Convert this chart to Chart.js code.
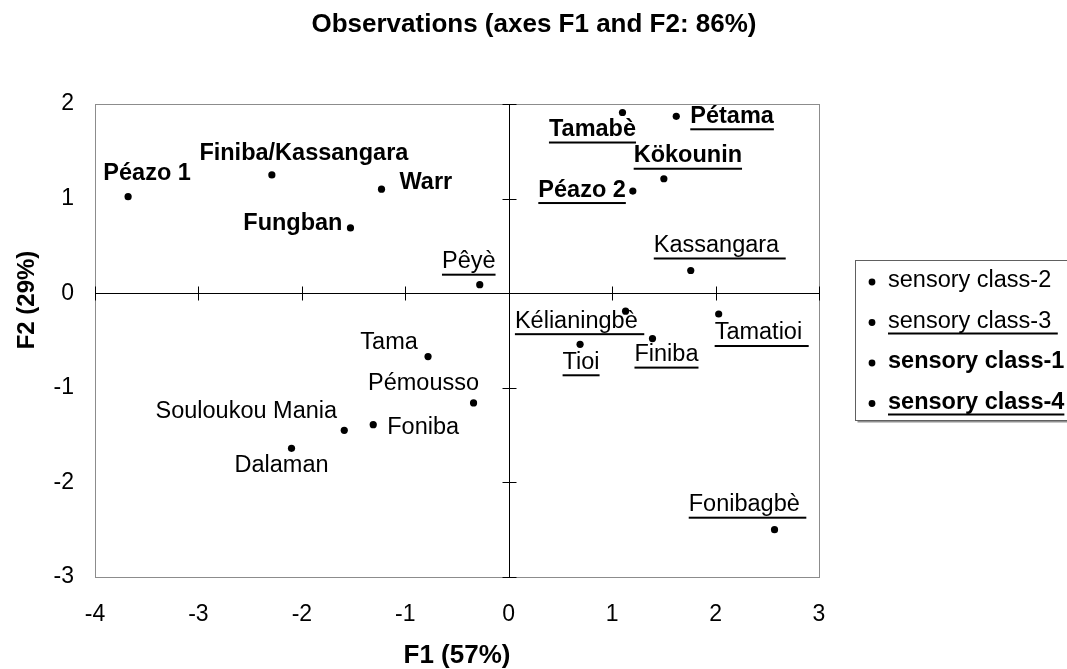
<!DOCTYPE html>
<html>
<head>
<meta charset="utf-8">
<script src="https://cdn.jsdelivr.net/npm/chart.js@4.4.0/dist/chart.umd.min.js"></script>
<style>
html,body{margin:0;padding:0;background:#fff;}
#wrap{width:1067px;height:669px;position:relative;overflow:hidden;}
</style>
</head>
<body>
<div id="wrap"><canvas id="c" width="1067" height="669"></canvas></div>
<script>
// ---- data ----
const names = ["Péazo 1","Finiba/Kassangara","Warr","Fungban","Pêyè",
  "Tamabè","Pétama","Kökounin","Péazo 2","Kassangara",
  "Kélianingbè","Tamatioi","Finiba","Tioi","Fonibagbè",
  "Tama","Pémousso","Foniba","Souloukou Mania","Dalaman"];
const f1 = [-3.68,-2.29,-1.23,-1.53,-0.28,
  1.10,1.62,1.50,1.20,1.76,
  1.13,2.03,1.39,0.69,2.57,
  -0.78,-0.34,-1.31,-1.59,-2.10];
const f2 = [1.02,1.25,1.10,0.69,0.09,
  1.91,1.87,1.21,1.08,0.24,
  -0.19,-0.22,-0.48,-0.54,-2.50,
  -0.67,-1.16,-1.39,-1.45,-1.64];
const sensoryClass = [1,1,1,1,3,
  4,4,4,4,3,
  3,3,3,3,3,
  2,2,2,2,2];
const legendOrder = [2,3,1,4];
const legendLabels = ["sensory class-2","sensory class-3","sensory class-1","sensory class-4"];
const xTicks = [-4,-3,-2,-1,0,1,2,3];
const yTicks = [-3,-2,-1,0,1,2];
const titleText = "Observations (axes F1 and F2: 86%)";
const xTitle = "F1 (57%)";
const yTitle = "F2 (29%)";

// ---- styles / placement (not data) ----
const classStyle = {1:{bold:true,ul:false},2:{bold:false,ul:false},3:{bold:false,ul:true},4:{bold:true,ul:true}};
// [dx, dy, anchor, trailingSpace]
const labelPlace = {
  "Péazo 1":[19,-23,'center'],
  "Finiba/Kassangara":[32,-21,'center'],
  "Warr":[18,-7,'left'],
  "Fungban":[-8,-4,'right'],
  "Pêyè":[-11,-23,'center'],
  "Tamabè":[-30,17,'center'],
  "Pétama":[14,0,'left'],
  "Kökounin":[24,-23,'center'],
  "Péazo 2":[-7,-1,'right'],
  "Kassangara":[29,-25,'center',true],
  "Kélianingbè":[-46,10,'center',true],
  "Tamatioi":[43,19,'center',true],
  "Finiba":[14,16,'center'],
  "Tioi":[1,18,'center'],
  "Fonibagbè":[-27,-25,'center',true],
  "Tama":[-39,-14,'center'],
  "Pémousso":[-50,-19,'center'],
  "Foniba":[14,3,'left'],
  "Souloukou Mania":[-98,-19,'center'],
  "Dalaman":[-10,17,'center']
};
const FAM = '"Liberation Sans", Arial, Helvetica, sans-serif';
function fnt(bold,size){return (bold?'bold ':'')+size+'px '+FAM;}

const datasets = legendOrder.map((cls,k)=>({
  label: legendLabels[k],
  cls: cls,
  data: names.map((n,i)=>({x:f1[i],y:f2[i],name:n,c:sensoryClass[i]})).filter(d=>d.c===cls),
  pointRadius:3.6, pointHoverRadius:3.6,
  backgroundColor:'#000', borderColor:'#000', borderWidth:0
}));

const decor = {
  id:'decor',
  beforeDatasetsDraw(chart){
    const ctx=chart.ctx, a=chart.chartArea, xs=chart.scales.x, ys=chart.scales.y;
    ctx.save();
    ctx.strokeStyle='#8c8c8c'; ctx.lineWidth=1;
    ctx.strokeRect(Math.round(a.left)+0.5, Math.round(a.top)+0.5, Math.round(a.right-a.left), Math.round(a.bottom-a.top));
    const x0=Math.round(xs.getPixelForValue(0))+0.5, y0=Math.round(ys.getPixelForValue(0))+0.5;
    ctx.strokeStyle='#000';
    ctx.beginPath();
    ctx.moveTo(a.left,y0); ctx.lineTo(a.right,y0);
    ctx.moveTo(x0,a.top); ctx.lineTo(x0,a.bottom);
    xTicks.forEach(v=>{const px=Math.round(xs.getPixelForValue(v))+0.5; ctx.moveTo(px,y0-7); ctx.lineTo(px,y0+7);});
    yTicks.forEach(v=>{const py=Math.round(ys.getPixelForValue(v))+0.5; ctx.moveTo(x0-7,py); ctx.lineTo(x0+7,py);});
    ctx.stroke();
    ctx.restore();
  },
  afterDatasetsDraw(chart){
    const ctx=chart.ctx;
    ctx.save();
    ctx.fillStyle='#000';
    ctx.textBaseline='middle'; ctx.textAlign='left';
    chart.data.datasets.forEach((ds,di)=>{
      const st=classStyle[ds.cls];
      const meta=chart.getDatasetMeta(di);
      meta.data.forEach((pt,j)=>{
        const d=ds.data[j];
        const p=labelPlace[d.name]||[8,-12,'left'];
        const txt=d.name+(p[3]?' ':'');
        ctx.font=fnt(st.bold,23.5);
        const w=ctx.measureText(txt).width;
        let left;
        if(p[2]==='left') left=pt.x+p[0];
        else if(p[2]==='right') left=pt.x+p[0]-w;
        else left=pt.x+p[0]-w/2;
        const cy=pt.y+p[1];
        ctx.fillText(txt,left,cy);
        if(st.ul) ctx.fillRect(left,cy+12,w,2);
      });
    });
    ctx.restore();
  },
  afterDraw(chart){
    const ctx=chart.ctx, a=chart.chartArea;
    ctx.save();
    ctx.fillStyle='#000';
    ctx.font=fnt(true,26); ctx.textAlign='center'; ctx.textBaseline='middle';
    ctx.fillText(titleText, 534, 25);
    ctx.font=fnt(true,26);
    ctx.fillText(xTitle,(a.left+a.right)/2,656);
    ctx.save();
    ctx.translate(27,300); ctx.rotate(-Math.PI/2);
    ctx.font=fnt(true,24);
    ctx.fillText(yTitle,0,0);
    ctx.restore();
    // legend
    const lx=855.5, ly=260.5, lw=240, lh=160;
    ctx.fillStyle='#909090';
    ctx.fillRect(lx+2, ly+lh, lw, 2);
    ctx.fillStyle='#fff'; ctx.fillRect(lx,ly,lw,lh);
    ctx.strokeStyle='#606060'; ctx.lineWidth=1; ctx.strokeRect(lx,ly,lw,lh);
    const rows=[281,321.5,362,402.5];
    ctx.textAlign='left'; ctx.textBaseline='middle';
    chart.data.datasets.forEach((ds,k)=>{
      const st=classStyle[ds.cls];
      const y=rows[k];
      ctx.fillStyle='#000';
      ctx.beginPath(); ctx.arc(872,y+1,3.4,0,Math.PI*2); ctx.fill();
      const txt=ds.label+(st.ul&&!st.bold?' ':'');
      ctx.font=fnt(st.bold,23.5);
      ctx.fillText(txt,888,y);
      if(st.ul){const w=ctx.measureText(txt).width; ctx.fillRect(888,y+11,w,2);}
    });
    ctx.restore();
  }
};

new Chart(document.getElementById('c'),{
  type:'scatter',
  data:{datasets},
  options:{
    responsive:false, animation:false, devicePixelRatio:1,
    layout:{padding:{top:104,right:248,left:0,bottom:0}},
    plugins:{legend:{display:false},title:{display:false},tooltip:{enabled:false}},
    scales:{
      x:{type:'linear',min:-4,max:3,
        afterBuildTicks:s=>{s.ticks=xTicks.map(v=>({value:v}));},
        afterFit:s=>{s.height=92;},
        grid:{display:false,drawTicks:false}, border:{display:false},
        ticks:{font:{family:FAM,size:23},color:'#000',padding:24,maxRotation:0,autoSkip:false}},
      y:{type:'linear',min:-3,max:2,
        afterBuildTicks:s=>{s.ticks=yTicks.map(v=>({value:v}));},
        afterFit:s=>{s.width=95;},
        grid:{display:false,drawTicks:false}, border:{display:false},
        ticks:{font:{family:FAM,size:23},color:'#000',padding:21,autoSkip:false}}
    }
  },
  plugins:[decor]
});
</script>
</body>
</html>
